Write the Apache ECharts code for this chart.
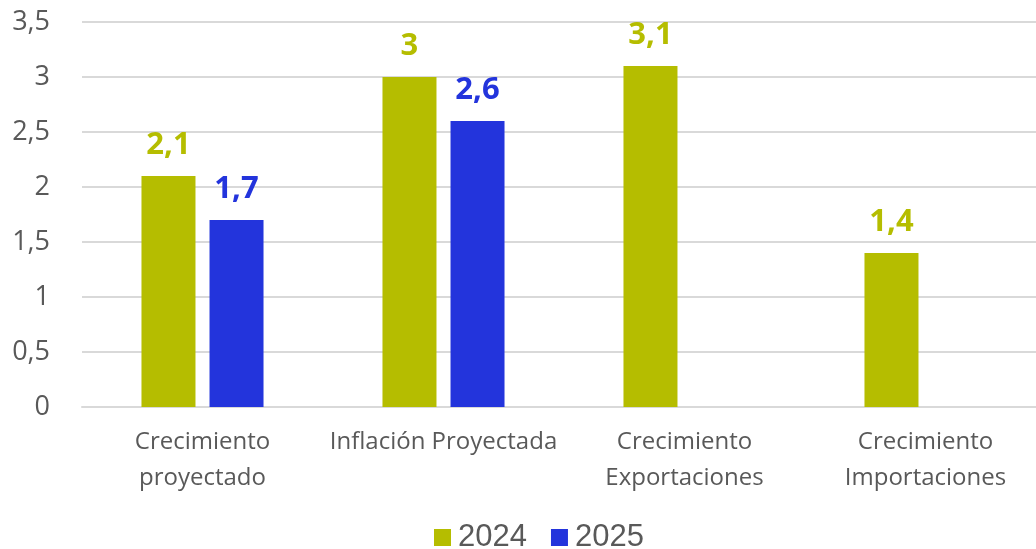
<!DOCTYPE html>
<html>
<head>
<meta charset="utf-8">
<script src="https://cdn.jsdelivr.net/npm/echarts@6/dist/echarts.min.js"></script>
<style>
html,body{margin:0;padding:0;background:#fff;overflow:hidden;width:1036px;height:549px;}
#chart{width:1046px;height:549px;}
</style>
</head>
<body>
<div id="chart"></div>
<script>
const categories = ['Crecimiento\nproyectado', 'Inflación Proyectada', 'Crecimiento\nExportaciones', 'Crecimiento\nImportaciones'];
const seriesNames = ['2024', '2025'];
const values2024 = [2.1, 3.0, 3.1, 1.4];
const values2025 = [1.7, 2.6, null, null];
const yTicks = [0, 0.5, 1, 1.5, 2, 2.5, 3, 3.5];

const fmt = v => String(v).replace('.', ',');
const green = '#b5bd00';
const blue = '#2334dc';

const chart = echarts.init(document.getElementById('chart'));
const labelCommon = {
  show: true,
  position: 'top',
  distance: 15,
  fontFamily: 'Open Sans',
  fontWeight: 'bold',
  fontSize: 31,
  formatter: p => fmt(p.value)
};
chart.setOption({
  animation: false,
  grid: {left: 82, right: 0, top: 22, height: 385},
  legend: {
    data: seriesNames,
    top: 517,
    left: 429,
    icon: 'rect',
    itemWidth: 17,
    itemHeight: 17,
    itemGap: 24,
    textStyle: {fontFamily: 'Liberation Sans', fontSize: 31, color: '#595959', padding: [0, 0, 0, 2]}
  },
  xAxis: {
    type: 'category',
    data: categories,
    axisLine: {lineStyle: {color: '#d9d9d9', width: 2}},
    axisTick: {show: false},
    axisLabel: {
      fontFamily: 'Open Sans',
      fontSize: 24,
      color: '#595959',
      lineHeight: 36,
      margin: 17,
      interval: 0
    }
  },
  yAxis: {
    type: 'value',
    min: 0,
    max: 3.5,
    interval: 0.5,
    axisLine: {show: false},
    axisTick: {show: false},
    splitLine: {lineStyle: {color: '#d9d9d9', width: 2}},
    axisLabel: {
      fontFamily: 'Open Sans',
      fontSize: 27,
      color: '#595959',
      margin: 32,
      formatter: v => fmt(v)
    }
  },
  series: [
    {
      name: seriesNames[0],
      type: 'bar',
      data: values2024,
      itemStyle: {color: green},
      barWidth: 54,
      barGap: '26%',
      label: Object.assign({}, labelCommon, {color: green})
    },
    {
      name: seriesNames[1],
      type: 'bar',
      data: values2025,
      itemStyle: {color: blue},
      barWidth: 54,
      barGap: '26%',
      label: Object.assign({}, labelCommon, {color: blue})
    }
  ]
});
</script>
</body>
</html>
